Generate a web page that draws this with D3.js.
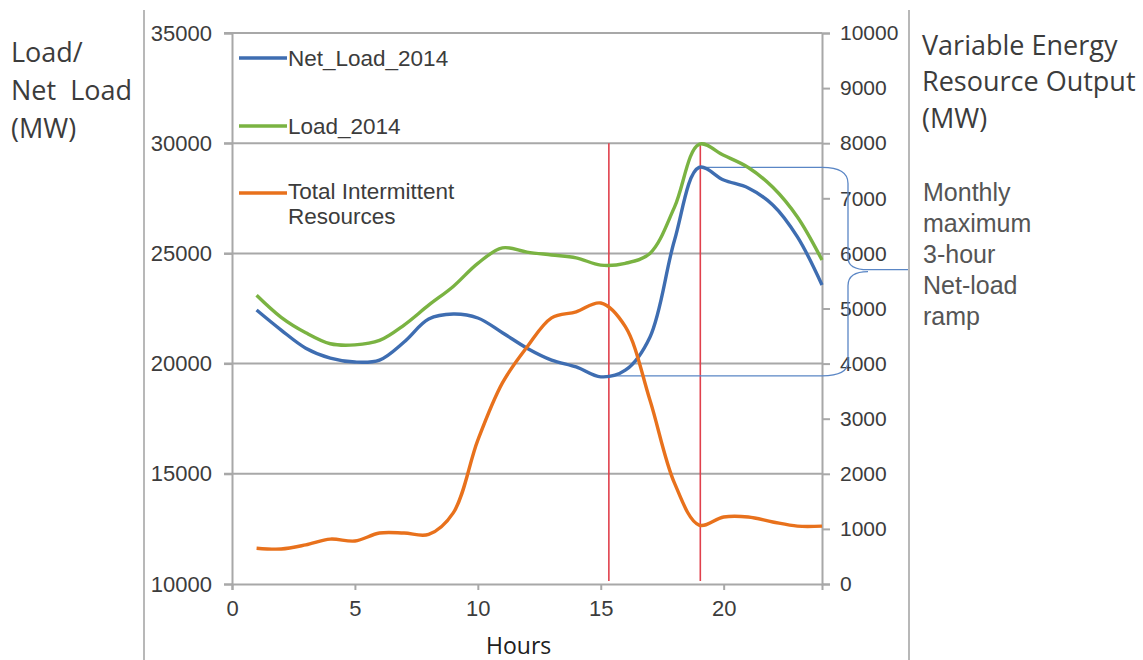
<!DOCTYPE html>
<html><head><meta charset="utf-8">
<script src="https://cdn.jsdelivr.net/npm/d3@7"></script>
<style>
html,body{margin:0;padding:0;background:#fff;}
svg{display:block;}
</style></head>
<body>
<svg id="chart" width="1143" height="660"></svg>
<script>
const hours = [1,2,3,4,5,6,7,8,9,10,11,12,13,14,15,16,17,18,19,20,21,22,23,24];
const load2014 = [23100,22100,21400,20900,20850,21050,21750,22650,23500,24550,25250,25060,24930,24800,24470,24550,25000,27100,29950,29450,28900,28000,26650,24700];
const netLoad2014 = [22430,21520,20700,20250,20070,20160,20980,22020,22250,22070,21400,20700,20160,19850,19400,19700,21200,25600,28900,28330,27970,27200,25750,23570];
const intermittent = [650,635,710,815,780,925,925,900,1290,2610,3650,4300,4830,4940,5100,4670,3340,1830,1070,1215,1215,1125,1050,1050];
const leftTicks = [10000,15000,20000,25000,30000,35000];
const rightTicks = [0,1000,2000,3000,4000,5000,6000,7000,8000,9000,10000];
const xTicks = [0,5,10,15,20];
const rampHours = [15.33,19.05];
const seriesNames = ["Net_Load_2014","Load_2014","Total Intermittent Resources"];

const svg = d3.select("#chart");
const X0=232, X1=822, Y0=584, Y1=33;
const x = d3.scaleLinear().domain([0,24]).range([X0,X1]);
const yL = d3.scaleLinear().domain([10000,35000]).range([Y0,Y1]);
const yR = d3.scaleLinear().domain([0,10000]).range([Y0,Y1]);
const gridCol="#a8a8a8", txtCol="#3c3c3c";

// frame lines
svg.append("line").attr("x1",144).attr("x2",144).attr("y1",10).attr("y2",660).attr("stroke","#b8b8b8").attr("stroke-width",2);
svg.append("line").attr("x1",909).attr("x2",909).attr("y1",10).attr("y2",660).attr("stroke","#b8b8b8").attr("stroke-width",2);

// gridlines
svg.append("g").selectAll("line").data(leftTicks.slice(1)).join("line")
  .attr("x1",X0-8).attr("x2",X1).attr("y1",d=>yL(d)).attr("y2",d=>yL(d))
  .attr("stroke",gridCol).attr("stroke-width",2);

// left axis
const gL = svg.append("g").attr("transform",`translate(${X0},0)`)
  .call(d3.axisLeft(yL).tickValues(leftTicks).tickSize(8).tickPadding(12).tickFormat(d3.format("d")));
// right axis
const gR = svg.append("g").attr("transform",`translate(${X1},0)`)
  .call(d3.axisRight(yR).tickValues(rightTicks).tickSize(8).tickPadding(10).tickFormat(d3.format("d")));
// bottom axis
const gB = svg.append("g").attr("transform",`translate(0,${Y0})`)
  .call(d3.axisBottom(x).tickValues(xTicks).tickSize(6).tickPadding(10).tickFormat(d3.format("d")));
[gL,gR,gB].forEach(g=>{
  g.select(".domain").attr("stroke",gridCol).attr("stroke-width",2);
  g.selectAll(".tick line").attr("stroke",gridCol).attr("stroke-width",2);
  g.selectAll(".tick text").attr("fill",txtCol).style("font-family","'Liberation Sans',Arial,sans-serif");
});
gL.selectAll(".tick text").style("font-size","22px");
gR.selectAll(".tick text").style("font-size","21px");
gB.selectAll(".tick text").style("font-size","22px");

// red ramp lines
svg.append("g").selectAll("line").data(rampHours).join("line")
  .attr("x1",d=>x(d)).attr("x2",d=>x(d)).attr("y1",yL(30000)).attr("y2",Y0-3)
  .attr("stroke","#e0404c").attr("stroke-width",1.6);

// bracket
const nlMax = d3.max(netLoad2014), nlMin = d3.min(netLoad2014);
const iMax = netLoad2014.indexOf(nlMax), iMin = netLoad2014.indexOf(nlMin);
const yT = yL(nlMax), yB = yL(nlMin)-1, yM = (yT+yB)/2;
const bp = d3.path();
bp.moveTo(x(hours[iMax])+4,yT); bp.lineTo(X1,yT);
bp.quadraticCurveTo(848,yT,848,yT+16); bp.lineTo(848,yM-14);
bp.quadraticCurveTo(848,yM-2,868,yM-2); bp.lineTo(908,yM-2);
bp.moveTo(868,yM); bp.quadraticCurveTo(848,yM,848,yM+14);
bp.lineTo(848,yB-14); bp.quadraticCurveTo(848,yB,X1,yB);
bp.lineTo(x(hours[iMin])+10,yB);
svg.append("path").attr("d",bp.toString()).attr("fill","none").attr("stroke","#5a86c5").attr("stroke-width",1.3);

// series
const curve = d3.curveCatmullRom.alpha(0.5);
const mk = (arr,ys)=>d3.line().curve(curve).x((d,i)=>x(hours[i])).y(d=>ys(d))(arr);
const colors = {net:"#3e6db1", load:"#7ab342", inter:"#e8711c"};
svg.append("path").attr("d",mk(load2014,yL)).attr("fill","none").attr("stroke",colors.load).attr("stroke-width",3.4);
svg.append("path").attr("d",mk(netLoad2014,yL)).attr("fill","none").attr("stroke",colors.net).attr("stroke-width",3.4);
svg.append("path").attr("d",mk(intermittent,yR)).attr("fill","none").attr("stroke",colors.inter).attr("stroke-width",3.4);

// legend
const leg = [{n:seriesNames[0],c:colors.net,y:58},{n:seriesNames[1],c:colors.load,y:126},{n:seriesNames[2],c:colors.inter,y:193}];
const lg = svg.append("g");
leg.forEach(l=>{
  lg.append("line").attr("x1",239).attr("x2",287).attr("y1",l.y).attr("y2",l.y).attr("stroke",l.c).attr("stroke-width",3.4);
});
const lt = (t,xx,yy)=>lg.append("text").attr("x",xx).attr("y",yy).text(t).attr("fill",txtCol)
  .style("font-family","'Liberation Sans',Arial,sans-serif").style("font-size","22.5px");
lt("Net_Load_2014",288,66); lt("Load_2014",288,134);
lt("Total Intermittent",288,199); lt("Resources",288,224);

// titles
const tt = (t,xx,yy,fs,fam,col)=>svg.append("text").attr("x",xx).attr("y",yy).text(t)
  .attr("fill",col||txtCol).style("font-family",fam).style("font-size",fs+"px").attr("xml:space","preserve");
const sans="'Open Sans','Noto Sans',sans-serif";
tt("Load/",11,62,27,sans); tt("Net  Load",11,100,27,sans); tt("(MW)",11,138,27,sans);
tt("Variable Energy",922,55,27,sans); tt("Resource Output",922,91,27,sans); tt("(MW)",922,128,27,sans);
const ar="'Liberation Sans',Arial,sans-serif";
["Monthly","maximum","3-hour","Net-load","ramp"].forEach((t,i)=>tt(t,923,201+31*i,25,ar,"#555"));
tt("Hours",486,654,23,sans,"#202020");
</script>
</body></html>
